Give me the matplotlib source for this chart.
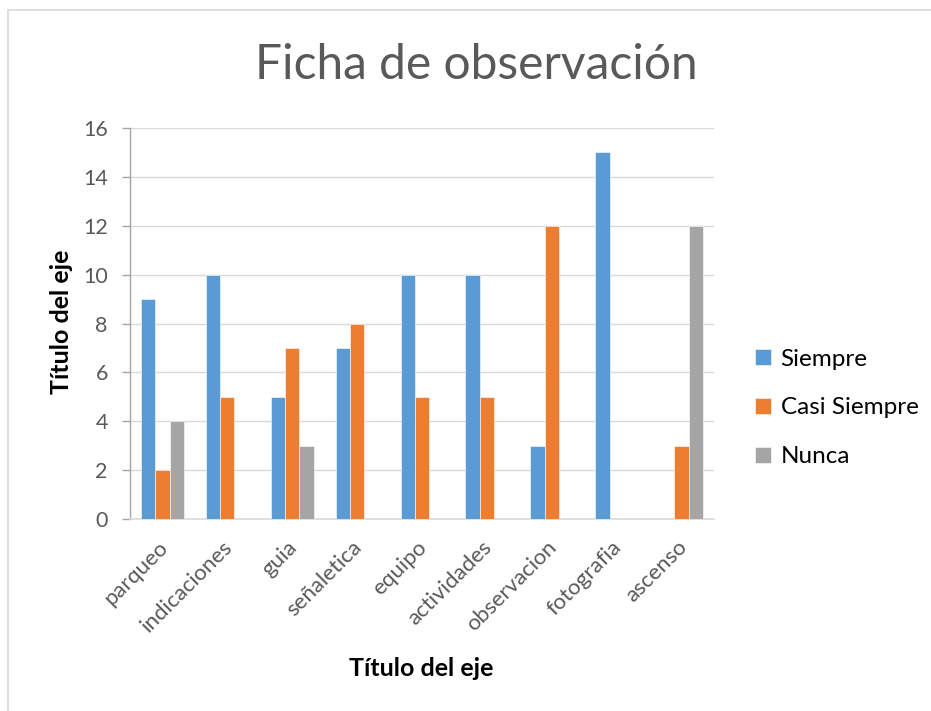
import matplotlib
matplotlib.use("Agg")
import matplotlib.pyplot as plt
import matplotlib.transforms as mtransforms
import numpy as np
from matplotlib.patches import Rectangle

categories = ["parqueo", "indicaciones", "guia", "señaletica", "equipo",
              "actividades", "observacion", "fotografia", "ascenso"]
siempre = [9, 10, 5, 7, 10, 10, 3, 15, 0]
casi_siempre = [2, 5, 7, 8, 5, 5, 12, 0, 3]
nunca = [4, 0, 3, 0, 0, 0, 0, 0, 12]
series_names = ["Siempre", "Casi Siempre", "Nunca"]
colors = ["#5B9BD5", "#ED7D31", "#A5A5A5"]
y_ticks = [0, 2, 4, 6, 8, 10, 12, 14, 16]

plt.rcParams['font.family'] = ['Lato', 'DejaVu Sans']

fig = plt.figure(figsize=(9.31, 7.11), dpi=100)
fig.patches.append(Rectangle((8/931, -0.01), 1.0, 1 - 10/711 + 0.01,
                             transform=fig.transFigure, fill=False,
                             edgecolor="#D9D9D9", linewidth=1.2))
ax = fig.add_axes([130/931, 1 - 519/711, (714 - 130)/931, (519 - 128)/711])

x = np.arange(len(categories))
w = 0.22
for i, (vals, name, c) in enumerate(zip([siempre, casi_siempre, nunca], series_names, colors)):
    ax.bar(x + (i - 1) * w, vals, width=w, color=c, label=name, zorder=3,
           edgecolor="white", linewidth=0.4)

ax.set_xlim(-0.5, len(categories) - 0.5)
ax.set_ylim(0, 16)
ax.set_yticks(y_ticks)
ax.yaxis.grid(True, color="#D9D9D9", linewidth=1, zorder=0)
for s in ["top", "right"]:
    ax.spines[s].set_visible(False)
ax.spines["left"].set_color("#A6A6A6")
ax.spines["left"].set_linewidth(1.0)
ax.spines["bottom"].set_color("#D9D9D9")
ax.spines["bottom"].set_linewidth(1.2)
ax.tick_params(axis="y", length=6, width=1.0, color="#A6A6A6",
               labelsize=15.5, labelcolor="#595959", pad=10)
ax.set_xticks(x)
ax.set_xticklabels(categories, rotation=45, ha="right", rotation_mode="anchor",
                   fontsize=16, color="#595959")
ax.tick_params(axis="x", length=0, pad=13)
offset = mtransforms.ScaledTranslation(-5/100, 0, fig.dpi_scale_trans)
for lbl in ax.get_xticklabels():
    lbl.set_transform(lbl.get_transform() + offset)

fig.text(62/931, 1 - 322/711, "Título del eje", rotation=90, ha="center", va="center",
         fontsize=18, fontweight="bold", color="black")
fig.text(421/931, 1 - 668/711, "Título del eje", ha="center", va="center",
         fontsize=18, fontweight="bold", color="black")

fig.text(476/931, 1 - 65/711, "Ficha de observación", ha="center", va="center",
         fontsize=34.5, fontweight="normal", color="#595959")

leg = fig.legend(loc="center left", bbox_to_anchor=(755/931, 1 - 408/711), frameon=False,
                 fontsize=17.5, handlelength=0.65, handleheight=0.65, labelspacing=1.15,
                 handletextpad=0.4, borderpad=0, borderaxespad=0)
for t in leg.get_texts():
    t.set_color("black")

fig.savefig("out.png", dpi=100)
